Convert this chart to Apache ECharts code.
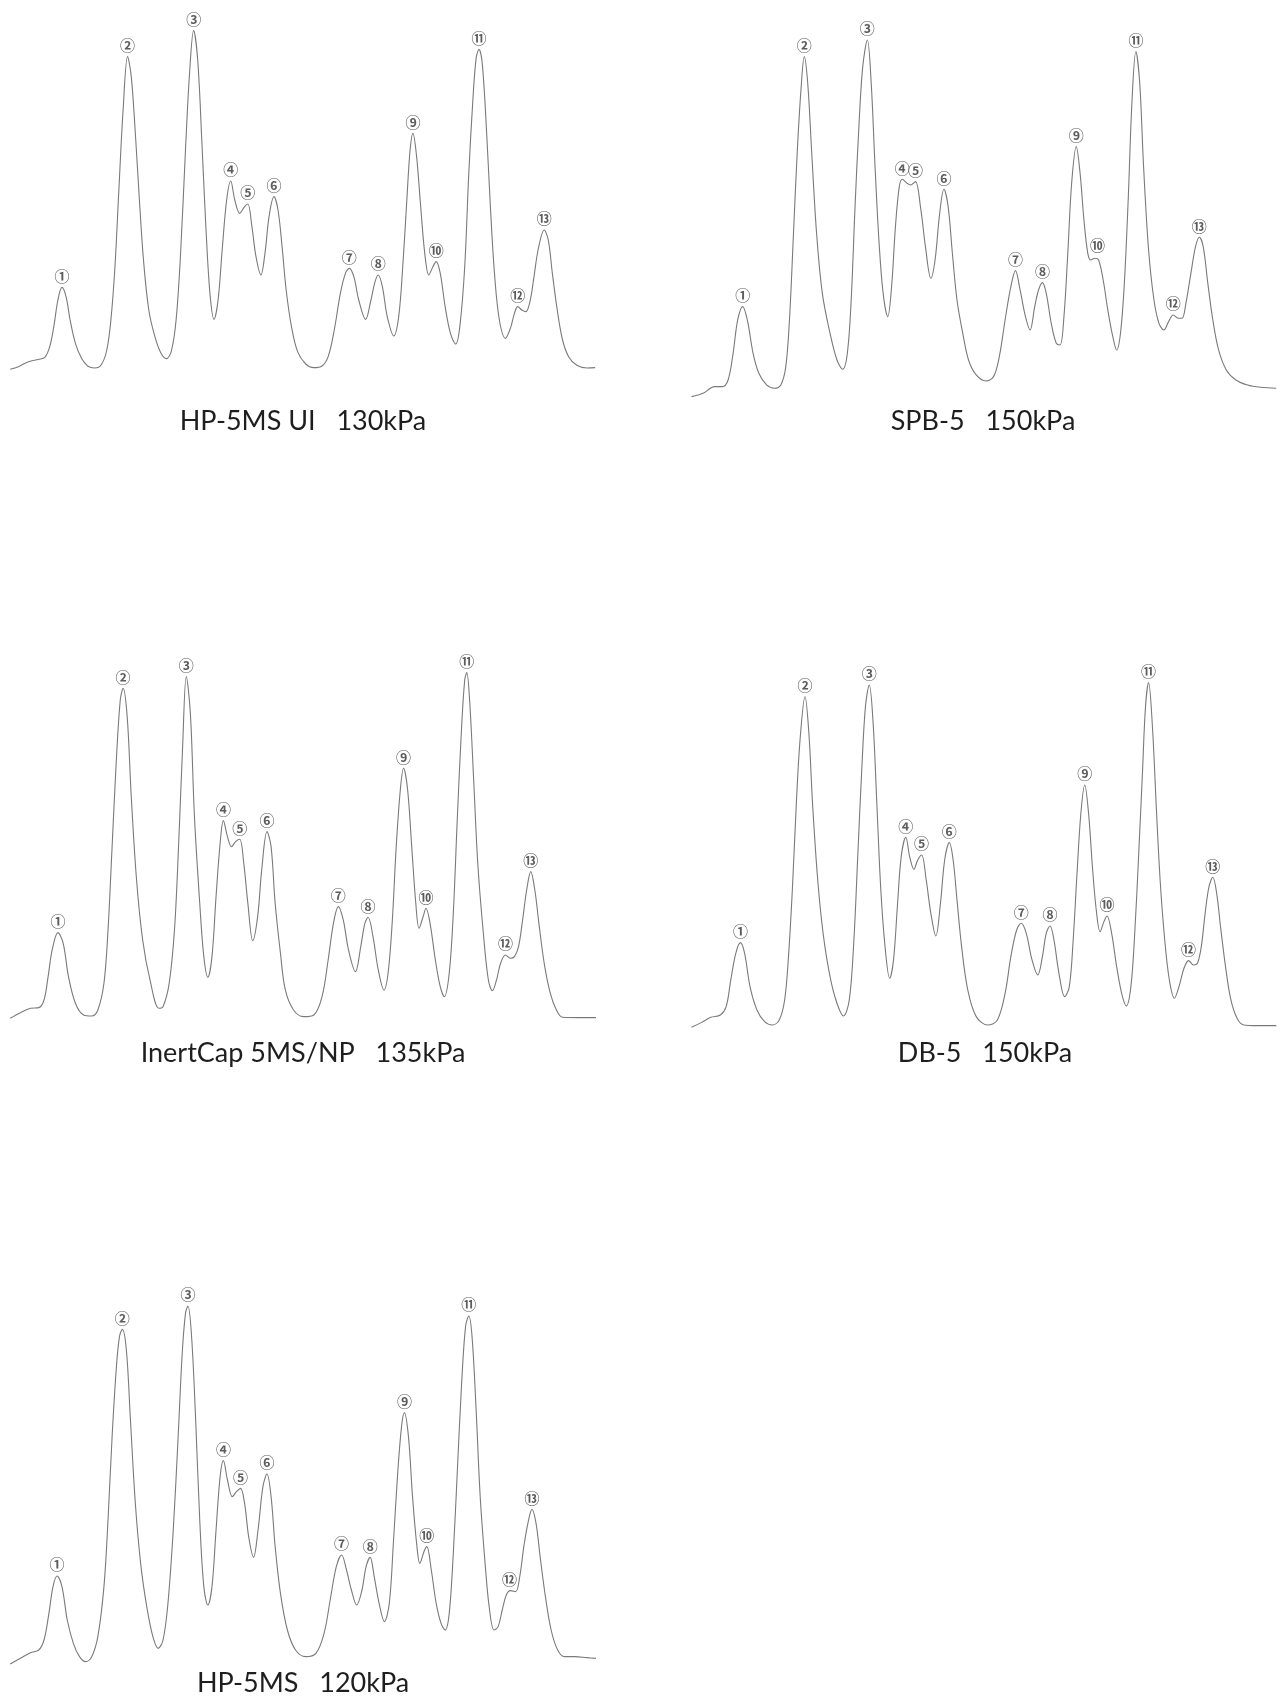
<!DOCTYPE html>
<html><head><meta charset="utf-8">
<script src="https://cdn.jsdelivr.net/npm/echarts@6/dist/echarts.min.js"></script>
<style>html,body{margin:0;padding:0;background:#fff}#c{width:1284px;height:1701px}</style>
</head><body><div id="c"></div>
<script>
// Peak numbering used on every chromatogram
const peakLabels = ['①','②','③','④','⑤','⑥','⑦','⑧','⑨','⑩','⑪','⑫','⑬'];
const panelTitles = ['HP-5MS UI   130kPa','SPB-5   150kPa','InertCap 5MS/NP   135kPa','DB-5   150kPa','HP-5MS   120kPa'];

// traces: [retention (arb. units), detector response (arb. units)]
const hp5msUi130Trace = [[25,2],[45,10],[70,25],[95,32],[110,38],[122,70],[132,130],[142,210],[152,248],[162,220],[172,150],[185,80],[200,35],[215,12],[232,6],[248,15],[262,60],[272,150],[282,310],[292,550],[302,780],[313,940],[322,880],[332,710],[342,510],[352,330],[365,180],[380,100],[395,50],[408,34],[420,55],[432,150],[443,350],[455,660],[465,890],[475,1018],[485,930],[495,690],[505,430],[515,230],[525,152],[535,210],[545,360],[556,510],[566,567],[576,510],[588,470],[600,490],[608,498],[618,430],[628,340],[640,285],[650,350],[660,460],[672,520],[682,480],[692,370],[702,240],[715,130],[730,55],[750,18],[770,7],[790,12],[805,40],[820,120],[835,230],[848,292],[857,305],[868,280],[880,210],[897,152],[910,210],[920,265],[928,285],[938,250],[950,160],[966,102],[978,160],[988,310],[998,510],[1006,660],[1013,710],[1022,640],[1032,490],[1042,350],[1052,285],[1062,310],[1070,325],[1080,290],[1092,190],[1105,110],[1118,78],[1128,130],[1140,310],[1150,590],[1160,810],[1168,935],[1175,962],[1183,920],[1193,730],[1203,490],[1213,290],[1225,150],[1240,95],[1252,125],[1262,170],[1270,190],[1280,180],[1290,175],[1300,205],[1310,280],[1320,360],[1335,420],[1345,390],[1355,290],[1367,180],[1380,90],[1395,40],[1415,14],[1440,6],[1460,7]];
const hp5msUi130Peaks = [[152,248],[313,940],[475,1018],[566,567],[608,498],[672,520],[857,305],[928,285],[1013,710],[1070,325],[1175,962],[1270,190],[1335,420]];

const spb5Trace = [[30,5],[60,15],[90,35],[110,35],[125,55],[138,135],[150,235],[163,275],[175,235],[190,135],[205,75],[225,40],[245,30],[262,40],[275,95],[285,245],[295,495],[305,745],[315,935],[323,1025],[332,945],[342,745],[355,495],[370,315],[390,195],[408,115],[423,87],[435,135],[445,295],[455,575],[465,815],[475,995],[487,1075],[497,945],[507,695],[517,475],[528,315],[540,245],[550,335],[560,515],[570,635],[578,657],[590,645],[600,640],[612,650],[625,575],[638,455],[652,360],[663,415],[675,555],[686,627],[697,575],[708,435],[720,295],[735,195],[750,115],[770,70],[795,52],[815,65],[830,125],[845,235],[860,335],[872,383],[884,325],[898,245],[910,205],[922,275],[932,325],[942,347],[952,315],[965,225],[978,165],[988,160],[998,245],[1008,435],[1018,645],[1030,755],[1040,675],[1050,535],[1060,435],[1068,415],[1078,420],[1088,415],[1100,355],[1112,265],[1125,185],[1135,145],[1145,195],[1155,345],[1165,595],[1175,895],[1185,1040],[1195,945],[1205,695],[1218,445],[1232,295],[1245,225],[1258,205],[1270,230],[1282,250],[1295,240],[1305,240],[1315,285],[1328,375],[1340,455],[1350,483],[1360,455],[1372,345],[1385,235],[1400,145],[1420,85],[1445,55],[1475,40],[1510,33],[1550,30]];
const spb5Peaks = [[163,275],[323,1025],[487,1075],[578,657],[612,650],[686,627],[872,383],[942,347],[1030,755],[1085,425],[1185,1040],[1282,250],[1350,483]];

const inertCapTrace = [[25,3],[50,20],[75,33],[95,35],[108,58],[118,128],[128,208],[142,260],[155,228],[168,128],[185,48],[205,13],[225,10],[240,28],[255,108],[265,268],[275,518],[285,768],[295,958],[302,993],[312,908],[322,668],[335,418],[350,238],[368,118],[390,33],[400,38],[415,108],[428,268],[438,518],[448,818],[457,1028],[467,918],[477,608],[490,348],[500,188],[510,126],[520,188],[530,368],[540,528],[548,596],[558,548],[568,518],[578,533],[588,540],[598,468],[608,348],[620,236],[632,308],[642,448],[655,563],[665,518],[675,348],[688,198],[700,88],[720,28],[745,8],[770,13],[790,68],[805,178],[818,288],[830,338],[842,298],[855,208],[872,143],[885,218],[895,288],[903,306],[915,248],[928,148],[942,88],[952,138],[962,288],[972,518],[982,688],[990,753],[1000,688],[1010,518],[1020,348],[1028,273],[1038,308],[1045,333],[1055,288],[1068,178],[1080,98],[1090,68],[1102,138],[1112,318],[1122,608],[1132,868],[1140,1018],[1145,1040],[1152,958],[1162,718],[1172,468],[1185,268],[1198,118],[1208,86],[1218,118],[1228,168],[1240,193],[1252,183],[1262,188],[1272,218],[1282,298],[1292,388],[1302,443],[1312,388],[1322,288],[1335,168],[1350,78],[1365,28],[1380,6],[1420,5],[1462,5]];
const inertCapPeaks = [[142,260],[302,993],[457,1028],[548,596],[588,540],[655,563],[830,338],[903,306],[990,753],[1045,333],[1145,1040],[1240,193],[1302,443]];

const db5Trace = [[30,3],[55,17],[80,33],[105,40],[120,65],[132,145],[145,225],[157,257],[168,225],[182,125],[200,55],[220,20],[240,10],[258,25],[272,85],[282,215],[292,415],[302,665],[312,865],[325,995],[335,885],[345,665],[358,445],[372,285],[390,155],[408,75],[425,37],[440,85],[452,265],[462,515],[472,765],[482,965],[492,1030],[502,915],[512,665],[522,415],[533,245],[545,150],[555,205],[565,365],[575,515],[587,573],[597,515],[608,477],[618,505],[628,520],[640,445],[652,345],[665,277],[677,375],[688,505],[700,557],[710,505],[720,385],[732,245],[748,115],[770,35],[800,10],[825,25],[845,105],[860,215],[875,295],[887,315],[900,285],[915,205],[930,160],[942,215],[952,285],[962,307],[972,265],[985,165],[1000,95],[1012,125],[1022,265],[1032,465],[1042,645],[1052,730],[1062,645],[1072,485],[1082,355],[1092,290],[1102,320],[1110,337],[1122,285],[1135,185],[1148,105],[1160,67],[1172,125],[1182,285],[1192,515],[1202,765],[1210,965],[1218,1037],[1228,905],[1238,665],[1248,445],[1260,265],[1272,145],[1285,90],[1297,125],[1310,180],[1322,203],[1335,190],[1345,195],[1355,245],[1365,345],[1375,425],[1385,453],[1395,405],[1405,305],[1418,185],[1432,85],[1448,30],[1465,10],[1500,8],[1550,8]];
const db5Peaks = [[157,257],[325,995],[492,1030],[587,573],[628,520],[700,557],[887,315],[962,307],[1052,730],[1110,337],[1218,1037],[1322,203],[1385,453]];

const hp5ms120Trace = [[25,3],[50,20],[75,37],[95,45],[108,75],[120,155],[130,235],[140,267],[152,235],[165,135],[180,65],[195,25],[210,10],[225,25],[240,85],[255,235],[265,435],[275,685],[285,885],[293,985],[300,1007],[310,945],[320,735],[332,485],[345,305],[360,175],[375,85],[388,50],[400,75],[412,185],[425,405],[437,685],[447,935],[455,1055],[461,1077],[470,985],[480,735],[490,435],[500,235],[510,180],[520,235],[530,405],[540,565],[548,613],[558,555],[570,505],[580,520],[590,530],[600,485],[610,385],[622,323],[633,405],[645,535],[655,573],[665,505],[675,355],[688,215],[705,105],[725,45],[750,25],[775,35],[795,95],[810,195],[825,295],[838,330],[850,285],[862,225],[875,180],[888,225],[898,295],[908,323],[918,265],[930,185],[943,130],[955,185],[965,365],[975,565],[985,715],[992,757],[1002,685],[1012,505],[1022,365],[1030,305],[1040,340],[1047,355],[1058,285],[1070,185],[1082,125],[1092,105],[1102,155],[1112,335],[1122,585],[1132,835],[1142,1015],[1150,1047],[1158,985],[1168,765],[1178,505],[1190,305],[1200,175],[1212,105],[1222,115],[1232,165],[1242,210],[1252,223],[1265,220],[1275,265],[1285,355],[1295,425],[1305,467],[1315,425],[1325,325],[1338,205],[1352,105],[1368,45],[1385,25],[1410,25],[1440,22],[1462,20]];
const hp5ms120Peaks = [[140,267],[300,1007],[461,1077],[548,613],[590,530],[655,573],[838,330],[908,323],[992,757],[1047,355],[1150,1047],[1250,222],[1305,467]];

// layout (pixels) and axis spans, kept separate from data
const layout = [
  {left:0,   top:0,    width:640, height:370,   xMax:1570, yMax:1110, tx:303, ty:421},
  {left:680, top:0,    width:604, height:398.3, xMax:1570, yMax:1195, tx:983, ty:421},
  {left:0,   top:630,  width:640, height:389.3, xMax:1570, yMax:1168, tx:303, ty:1053},
  {left:680, top:640,  width:604, height:388.3, xMax:1570, yMax:1165, tx:985, ty:1053},
  {left:0,   top:1270, width:640, height:395,   xMax:1570, yMax:1185, tx:303, ty:1683}
];
const traces = [hp5msUi130Trace, spb5Trace, inertCapTrace, db5Trace, hp5ms120Trace];
const peaks = [hp5msUi130Peaks, spb5Peaks, inertCapPeaks, db5Peaks, hp5ms120Peaks];

const chart = echarts.init(document.getElementById('c'), null, {renderer:'canvas'});
const grid = [], xAxis = [], yAxis = [], series = [], graphic = [];
layout.forEach((L, i) => {
  grid.push({left:L.left, top:L.top, width:L.width, height:L.height});
  xAxis.push({type:'value', gridIndex:i, min:0, max:L.xMax, show:false});
  yAxis.push({type:'value', gridIndex:i, min:0, max:L.yMax, show:false});
  series.push({
    type:'line', xAxisIndex:i, yAxisIndex:i, data:traces[i],
    smooth:0.35, symbol:'none', silent:true,
    lineStyle:{color:'#7a7a7a', width:1.1}
  });
  series.push({
    type:'scatter', xAxisIndex:i, yAxisIndex:i, data:peaks[i],
    symbolSize:2, itemStyle:{color:'rgba(0,0,0,0)'}, silent:true,
    label:{show:true, position:'top', distance:3,
      formatter:p => peakLabels[p.dataIndex],
      fontFamily:'Noto Sans CJK SC', fontSize:15, fontWeight:'bold', color:'#333'}
  });
  graphic.push({
    type:'text', x:L.tx, y:L.ty,
    style:{text:panelTitles[i], fontFamily:'Lato', fontSize:27, fill:'#1e1e1e',
      textAlign:'center', textVerticalAlign:'middle'}
  });
});
chart.setOption({animation:false, grid, xAxis, yAxis, series, graphic});
</script></body></html>
